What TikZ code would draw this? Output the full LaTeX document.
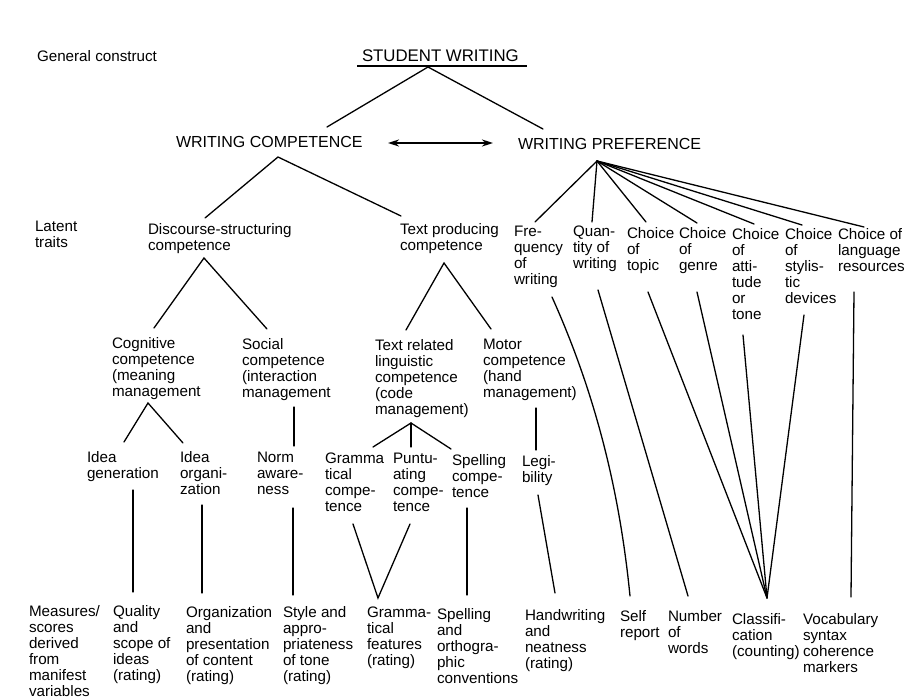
\documentclass[tikz,border=0pt]{standalone}
\usepackage{fontspec}
\setmainfont{Liberation Sans}
\usetikzlibrary{arrows.meta}
\begin{document}
\begin{tikzpicture}[x=1pt,y=-1pt,
  lab/.style={anchor=north west, inner sep=0pt, outer sep=0pt, align=left,
    font=\fontsize{15.2}{16}\selectfont, execute at begin node=\strut, yshift=7pt},
  captext/.style={lab, font=\fontsize{16}{16}\selectfont},
  conn/.style={line width=1.3pt, line cap=round}]
\fill[white] (0,0) rectangle (906,698);
\useasboundingbox (0,0) rectangle (906,698);

% ---------- row 0 / 1 ----------
\node[lab] (gc) at (37,57) {General construct};
\node[captext, font=\fontsize{16.8}{16}\selectfont] (sw) at (362,57) {STUDENT WRITING};
\coordinate (ul-l) at (357,66);
\coordinate (ul-r) at (527,66);
\draw[line width=1.6pt] (ul-l) -- (ul-r);
\node[captext] (wc) at (176,143) {WRITING COMPETENCE};
\node[captext] (wp) at (518,145) {WRITING PREFERENCE};
\coordinate (wc-r) at (388,143);
\coordinate (wp-l) at (493,143);
\draw[line width=2pt, {Stealth[length=11pt,width=7pt]}-{Stealth[length=11pt,width=7pt]}] (wc-r) -- (wp-l);

\coordinate (sw-a) at (428,67);
\coordinate (wc-t) at (327,127);
\coordinate (wp-t) at (543,129);
\draw[conn] (wc-t) -- (sw-a) -- (wp-t);

% ---------- latent traits ----------
\node[lab] (lt) at (35,228) {Latent\\traits};
\node[lab] (ds) at (148,230) {Discourse-structuring\\competence};
\node[lab] (tp) at (400,230) {Text producing\\competence};
\node[lab] (fre) at (514,233) {Fre-\\quency\\of\\writing};
\node[lab] (quan) at (573,233) {Quan-\\tity of\\writing};
\node[lab] (topic) at (627,234) {Choice\\of\\topic};
\node[lab] (genre) at (679,234) {Choice\\of\\genre};
\node[lab] (att) at (732,235) {Choice\\of\\atti-\\tude\\or\\tone};
\node[lab] (sty) at (785,235) {Choice\\of\\stylis-\\tic\\devices};
\node[lab] (lang) at (838,235) {Choice of\\language\\resources};

\coordinate (wc-a) at (278,157);
\coordinate (ds-t) at (205,218);
\coordinate (tp-t) at (401,216);
\draw[conn] (ds-t) -- (wc-a) -- (tp-t);

\coordinate (wp-a) at (597,161);
\coordinate (fre-t) at (535,222);
\coordinate (quan-t) at (592,222);
\coordinate (topic-t) at (646,222);
\coordinate (genre-t) at (697,223);
\coordinate (att-t) at (754,224);
\coordinate (sty-t) at (802,225);
\coordinate (lang-t) at (864,227);
\foreach \e in {fre-t,quan-t,topic-t,genre-t,att-t,sty-t,lang-t}
  \draw[conn] (wp-a) -- (\e);

% ---------- third row ----------
\node[lab] (cog) at (112,344) {Cognitive\\competence\\(meaning\\management};
\node[lab] (soc) at (242,345) {Social\\competence\\(interaction\\management};
\node[lab] (trl) at (375,346) {Text related\\linguistic\\competence\\(code\\management)};
\node[lab] (mot) at (483,346) {Motor\\competence\\(hand\\management)};

\coordinate (ds-a) at (204,258);
\coordinate (cog-t) at (154,328);
\coordinate (soc-t) at (267,329);
\draw[conn] (cog-t) -- (ds-a) -- (soc-t);
\coordinate (tp-a) at (444,263);
\coordinate (trl-t) at (406,330);
\coordinate (mot-t) at (491,329);
\draw[conn] (trl-t) -- (tp-a) -- (mot-t);

% ---------- fourth row ----------
\node[lab] (ig) at (87,458) {Idea\\generation};
\node[lab] (io) at (180,458) {Idea\\organi-\\zation};
\node[lab] (na) at (257,459) {Norm\\aware-\\ness};
\node[lab] (gcomp) at (325,460) {Gramma\\tical\\compe-\\tence};
\node[lab] (pc) at (393,460) {Puntu-\\ating\\compe-\\tence};
\node[lab] (spc) at (452,461) {Spelling\\compe-\\tence};
\node[lab] (leg) at (522,462) {Legi-\\bility};

\coordinate (cog-a) at (148,403);
\coordinate (ig-t) at (124,442);
\coordinate (io-t) at (183,443);
\draw[conn] (ig-t) -- (cog-a) -- (io-t);
\coordinate (soc-b) at (294,407);
\coordinate (na-t) at (294,446);
\draw[conn] (soc-b) -- (na-t);
\coordinate (trl-a) at (411,423);
\coordinate (gcomp-t) at (373,447);
\coordinate (pc-t) at (411,447);
\coordinate (spc-t) at (451,449);
\draw[conn] (gcomp-t) -- (trl-a) -- (spc-t);
\draw[conn] (trl-a) -- (pc-t);
\coordinate (mot-b) at (536,408);
\coordinate (leg-t) at (536,450);
\draw[conn] (mot-b) -- (leg-t);

% ---------- bottom row ----------
\node[lab] (ms) at (29,612) {Measures/\\scores\\derived\\from\\manifest\\variables};
\node[lab] (qs) at (113,612) {Quality\\and\\scope of\\ideas\\(rating)};
\node[lab] (op) at (186,613) {Organization\\and\\presentation\\of content\\(rating)};
\node[lab] (st) at (283,613) {Style and\\appro-\\priateness\\of tone\\(rating)};
\node[lab] (gf) at (367,614) {Gramma-\\tical\\features\\(rating)};
\node[lab] (so) at (437,615) {Spelling\\and\\orthogra-\\phic\\conventions};
\node[lab] (hw) at (525,616) {Handwriting\\and\\neatness\\(rating)};
\node[lab] (sr) at (620,617) {Self\\report};
\node[lab] (nw) at (668,617) {Number\\of\\words};
\node[lab] (cl) at (732,620) {Classifi-\\cation\\(counting)};
\node[lab] (vo) at (803,620) {Vocabulary\\syntax\\coherence\\markers};

\coordinate (ig-b) at (133,490);  \coordinate (qs-t) at (133,592);
\coordinate (io-b) at (202,505);  \coordinate (op-t) at (202,593);
\coordinate (na-b) at (293,508);  \coordinate (st-t) at (293,595);
\draw[conn] (ig-b) -- (qs-t);
\draw[conn] (io-b) -- (op-t);
\draw[conn] (na-b) -- (st-t);
\coordinate (gcomp-b) at (353,524);
\coordinate (pc-b) at (410,524);
\coordinate (gf-t) at (378,598);
\draw[conn] (gcomp-b) -- (gf-t) -- (pc-b);
\coordinate (spc-b) at (467,508);  \coordinate (so-t) at (467,595);
\draw[conn] (spc-b) -- (so-t);
\coordinate (leg-b) at (538,495);  \coordinate (hw-t) at (555,593);
\draw[conn] (leg-b) -- (hw-t);
\coordinate (fre-b) at (552,297);  \coordinate (sr-t) at (630,596);
\draw[conn] (fre-b) .. controls (597,397) and (620,495) .. (sr-t);
\coordinate (quan-b) at (598,290); \coordinate (nw-t) at (688,596);
\draw[conn] (quan-b) -- (nw-t);
\coordinate (cl-t) at (767,598);
\coordinate (topic-b) at (648,292);
\coordinate (genre-b) at (697,292);
\coordinate (att-b) at (743,335);
\coordinate (sty-b) at (804,315);
\foreach \s in {topic-b,genre-b,att-b,sty-b}
  \draw[conn] (\s) -- (cl-t);
\coordinate (lang-b) at (854,292); \coordinate (vo-t) at (851,597);
\draw[conn] (lang-b) -- (vo-t);
\end{tikzpicture}
\end{document}
